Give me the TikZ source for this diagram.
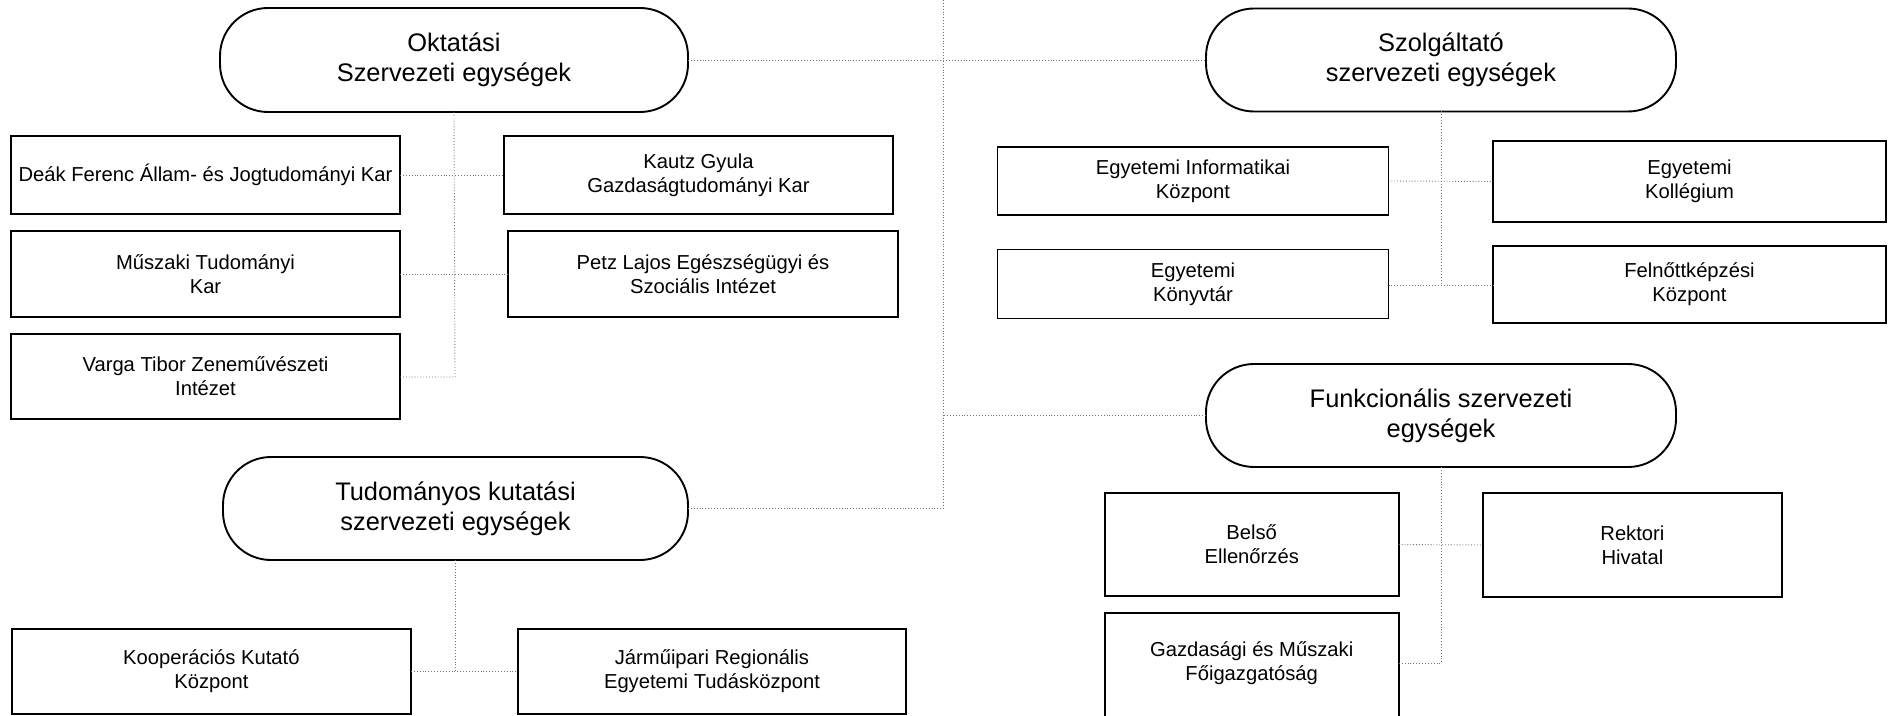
\documentclass[tikz,border=0pt]{standalone}
\usepackage{fontspec}
\setmainfont{Liberation Sans}
\begin{document}
\begin{tikzpicture}[x=0.5pt,y=-0.5pt,
  boxnode/.style={draw=black, line width=0.95pt, rectangle, inner sep=0pt, outer sep=0pt,
    align=center, font=\fontsize{10.1pt}{12pt}\selectfont},
  openbox/.style={boxnode, draw=none},
  boxline/.style={draw=black, line width=0.95pt},
  stadium/.style={draw=black, line width=0.95pt, rectangle, rounded corners=24pt, inner sep=0pt, outer sep=0pt,
    align=center, font=\fontsize{12.7pt}{15pt}\selectfont},
  link/.style={draw=black!55, line width=0.45pt, densely dotted}]
\useasboundingbox (0,0) rectangle (1889,716);

% stadium nodes
\node[stadium, minimum width=234pt, minimum height=52pt] (okt) at (454,60) {Oktatási\\Szervezeti egységek};
\node[stadium, minimum width=235pt, minimum height=51.5pt] (szolg) at (1441,60) {Szolgáltató\\szervezeti egységek};
\node[stadium, minimum width=235pt, minimum height=51.5pt] (funk) at (1441,415.5) {Funkcionális szervezeti\\egységek};
\node[stadium, minimum width=232.5pt, minimum height=51.5pt] (tud) at (455.5,508.5) {Tudományos kutatási\\szervezeti egységek};

% Oktatási units
\node[boxnode, minimum width=194.5pt, minimum height=39pt] (deak) at (205.5,175) {Deák Ferenc Állam- és Jogtudományi Kar};
\node[boxnode, minimum width=194.5pt, minimum height=39pt] (kautz) at (698.5,175) {Kautz Gyula\\Gazdaságtudományi Kar};
\node[boxnode, minimum width=194.5pt, minimum height=43pt] (musz) at (205.5,274) {Műszaki Tudományi\\Kar};
\node[boxnode, minimum width=195pt, minimum height=43pt] (petz) at (703,274) {Petz Lajos Egészségügyi és\\Szociális Intézet};
\node[boxnode, minimum width=194.5pt, minimum height=42.5pt] (varga) at (205.5,376.5) {Varga Tibor Zeneművészeti\\Intézet};

% Szolgáltató units
\node[boxnode, minimum width=195.5pt, minimum height=34pt] (inf) at (1193,181) {Egyetemi Informatikai\\Központ};
\node[boxnode, minimum width=196.5pt, minimum height=40.5pt] (koll) at (1689.5,181.5) {Egyetemi\\Kollégium};
\node[boxnode, minimum width=195.5pt, minimum height=34.5pt] (konyv) at (1193,284) {Egyetemi\\Könyvtár};
\node[boxnode, minimum width=196.5pt, minimum height=38.5pt] (feln) at (1689.5,284.5) {Felnőttképzési\\Központ};

% Funkcionális units
\node[boxnode, minimum width=147pt, minimum height=51.5pt] (belso) at (1251.7,544.5) {Belső\\Ellenőrzés};
\node[boxnode, minimum width=149.5pt, minimum height=52pt] (rektor) at (1632.4,545) {Rektori\\Hivatal};
\node[openbox, minimum width=147pt, minimum height=50.5pt] (gazd) at (1251.7,663.5) {Gazdasági és Műszaki\\Főigazgatóság};
\draw[boxline] ([yshift=-8pt]gazd.south west) -- (gazd.north west) -- (gazd.north east) -- ([yshift=-8pt]gazd.south east);

% Tudományos units
\node[boxnode, minimum width=199.5pt, minimum height=42.5pt] (koop) at (211.4,671.5) {Kooperációs Kutató\\Központ};
\node[boxnode, minimum width=194pt, minimum height=42.5pt] (jarmu) at (712,671.5) {Járműipari Regionális\\Egyetemi Tudásközpont};

% connectors
\coordinate (top) at (943,0);
\coordinate (oktj) at (455,377);
\coordinate (szolgj) at (1441,285);
\coordinate (funkj) at (1441,663.5);
\coordinate (tudj) at (455.5,671.5);

\draw[link] (top) -- (top |- tud.east) -- (tud.east);
\draw[link] (okt.east) -- (szolg.west);
\draw[link] (funk.west) -- (funk.west -| top);

\draw[link] (okt.south) -- (oktj) -- (varga.east |- oktj);
\draw[link] (deak.east) -- (kautz.west);
\draw[link] (musz.east) -- (petz.west);

\draw[link] (szolg.south) -- (szolgj);
\draw[link] (inf.east) -- (koll.west);
\draw[link] (konyv.east |- szolgj) -- (feln.west |- szolgj);

\draw[link] (funk.south) -- (funkj) -- (gazd.east);
\draw[link] (belso.east) -- (rektor.west);

\draw[link] (tud.south) -- (tudj);
\draw[link] (koop.east) -- (jarmu.west);
\end{tikzpicture}
\end{document}
